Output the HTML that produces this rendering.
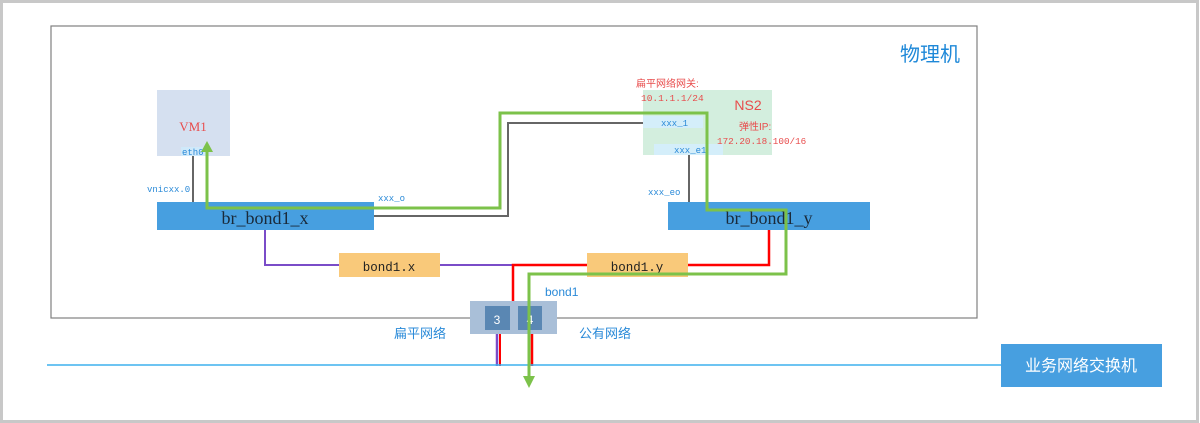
<!DOCTYPE html>
<html><head><meta charset="utf-8"><style>
html,body{margin:0;padding:0;background:#fff;}
svg{display:block;}
text{font-family:"Liberation Serif","Noto Serif CJK SC",serif;}
.cjk{font-family:"Liberation Sans","Noto Sans CJK SC",sans-serif;}
.mono{font-family:"Liberation Mono","Noto Sans CJK SC",monospace;}
</style></head><body>
<svg width="1200" height="423" viewBox="0 0 1200 423" xmlns="http://www.w3.org/2000/svg">
<rect x="1.5" y="1.5" width="1196" height="420" fill="#fff" stroke="#c8c8c8" stroke-width="3"/>
<rect x="51" y="26" width="926" height="292" fill="#fff" stroke="#808080" stroke-width="1.2"/>
<text x="900" y="61" font-size="20" fill="#1e88d8" class="cjk">物理机</text>

<!-- VM1 -->
<rect x="157" y="90" width="73" height="66" fill="#d5e0f0"/>
<text x="193" y="131" font-size="13" fill="#e84c4c" text-anchor="middle">VM1</text>
<rect x="181" y="147" width="27" height="9" fill="#cfe9fa"/>
<text x="182" y="155" font-size="9" fill="#2a8ad8" class="mono">eth0</text>
<line x1="193" y1="156" x2="193" y2="202" stroke="#666" stroke-width="2"/>
<text x="147" y="192" font-size="9" fill="#2a8ad8" class="mono">vnicxx.0</text>

<!-- NS2 -->
<rect x="643" y="90" width="129" height="65" fill="#d3eede"/>
<rect x="643" y="116" width="60" height="12" fill="#d4eefa"/>
<rect x="654" y="144" width="69" height="11" fill="#d4eefa"/>
<text x="661" y="126" font-size="9" fill="#2a8ad8" class="mono">xxx_1</text>
<text x="674" y="153" font-size="9" fill="#2a8ad8" class="mono">xxx_e1</text>
<text x="748" y="110" font-size="14" fill="#e84c4c" text-anchor="middle" class="cjk">NS2</text>
<text x="636" y="87" font-size="10" fill="#e84c4c" class="cjk">扁平网络网关:</text>
<text x="641" y="101" font-size="9.5" fill="#e84c4c" class="mono">10.1.1.1/24</text>
<text x="739" y="130" font-size="10" fill="#e84c4c" class="cjk">弹性IP:</text>
<text x="717" y="144" font-size="9.3" fill="#e84c4c" class="mono">172.20.18.100/16</text>
<line x1="689" y1="155" x2="689" y2="202" stroke="#666" stroke-width="2"/>
<text x="648" y="195" font-size="9" fill="#2a8ad8" class="mono">xxx_eo</text>

<!-- gray link -->
<polyline points="374,216 508,216 508,123 643,123" fill="none" stroke="#666" stroke-width="2"/>
<text x="378" y="201" font-size="9" fill="#2a8ad8" class="mono">xxx_o</text>

<!-- bridges -->
<rect x="157" y="202" width="217" height="28" fill="#479fe0"/>
<text x="265" y="224" font-size="18" fill="#1a2a3a" text-anchor="middle">br_bond1_x</text>
<rect x="668" y="202" width="202" height="28" fill="#479fe0"/>
<text x="769" y="224" font-size="18" fill="#1a2a3a" text-anchor="middle">br_bond1_y</text>

<!-- purple / red -->
<polyline points="265,230 265,265 513,265" fill="none" stroke="#7a4cc8" stroke-width="2"/>
<polyline points="769,230 769,265 513,265 513,305" fill="none" stroke="#f00" stroke-width="2.5"/>
<line x1="497" y1="334" x2="497" y2="366" stroke="#7a4cc8" stroke-width="2.5"/>
<line x1="500" y1="334" x2="500" y2="366" stroke="#f00" stroke-width="2"/>
<line x1="532" y1="334" x2="532" y2="366" stroke="#f00" stroke-width="2.5"/>

<rect x="339" y="253" width="101" height="24" fill="#f9c97a"/>
<text x="389" y="271" font-size="12.5" fill="#222" text-anchor="middle" class="mono">bond1.x</text>
<rect x="587" y="253" width="101" height="24" fill="#f9c97a"/>
<text x="637" y="271" font-size="12.5" fill="#222" text-anchor="middle" class="mono">bond1.y</text>

<!-- bus line -->
<line x1="47" y1="365" x2="1001" y2="365" stroke="#3db0ee" stroke-width="1.5"/>

<!-- bond1 switch -->
<rect x="470" y="301" width="87" height="33" fill="#a9bfd8"/>
<rect x="485" y="306" width="25" height="24" fill="#5a87b3"/>
<rect x="518" y="306" width="24" height="24" fill="#5a87b3"/>
<text x="497" y="324" font-size="12" fill="#fff" text-anchor="middle" class="cjk">3</text>
<text x="530" y="324" font-size="12" fill="#fff" text-anchor="middle" class="cjk">4</text>
<text x="545" y="296" font-size="12" fill="#2a8ad8" class="cjk">bond1</text>
<text x="394" y="338" font-size="13" fill="#2a8ad8" class="cjk">扁平网络</text>
<text x="579" y="338" font-size="13" fill="#2a8ad8" class="cjk">公有网络</text>

<!-- switch -->
<rect x="1001" y="344" width="161" height="43" fill="#479fe0"/>
<text x="1081" y="371" font-size="16" fill="#fff" text-anchor="middle" class="cjk">业务网络交换机</text>

<!-- green path -->
<polyline points="207,152 207,208 500,208 500,113 707,113 707,210 786,210 786,274 529,274 529,380" fill="none" stroke="#7cc24a" stroke-width="3"/>
<polygon points="207,141 201,152 213,152" fill="#7cc24a"/>
<polygon points="529,388 523,376 535,376" fill="#7cc24a"/>
</svg>
</body></html>
